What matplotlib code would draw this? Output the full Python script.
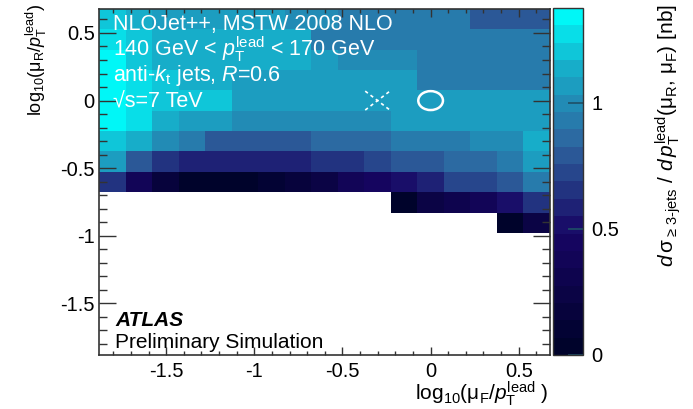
import numpy as np
import matplotlib
matplotlib.use('Agg')
import matplotlib.pyplot as plt
from matplotlib.colors import LinearSegmentedColormap, BoundaryNorm
from matplotlib.patches import Ellipse
from matplotlib.ticker import MultipleLocator

plt.rcParams['font.family'] = ['Liberation Sans', 'DejaVu Sans']
plt.rcParams['mathtext.fontset'] = 'custom'
plt.rcParams['mathtext.rm'] = 'Liberation Sans'
plt.rcParams['mathtext.it'] = 'Liberation Sans:italic'
plt.rcParams['mathtext.bf'] = 'Liberation Sans:bold'
plt.rcParams['axes.unicode_minus'] = False

# scale variations in steps of sqrt(2): log10(mu / pT) = k * log10(2) / 2
scale_steps = list(range(-12, 5))
half_decade = np.log10(2) / 2

nan = np.nan
# d sigma / d pT [nb] for each mu_R step (rows), ordered along mu_F steps -12..4
xsec_r_p4 = [1.20, 1.13, 1.07, 1.07, 1.07, 1.07, 1.07, 1.00, 1.00, 0.93, 0.93, 0.93, 0.93, 0.93, 0.79, 0.79, 0.79]
xsec_r_p3 = [1.27, 1.20, 1.13, 1.13, 1.13, 1.13, 1.13, 1.13, 0.93, 0.93, 0.93, 0.93, 0.93, 0.93, 0.93, 0.93, 0.93]
xsec_r_p2 = [1.34, 1.20, 1.13, 1.13, 1.13, 1.13, 1.13, 1.13, 1.07, 1.00, 1.00, 1.00, 0.93, 0.93, 0.93, 0.93, 0.93]
xsec_r_p1 = [1.34, 1.27, 1.20, 1.13, 1.13, 1.07, 1.07, 1.07, 1.07, 1.07, 1.07, 1.07, 0.93, 0.93, 0.93, 0.93, 0.93]
xsec_r_0  = [1.34, 1.27, 1.20, 1.20, 1.20, 1.07, 1.07, 1.07, 1.07, 1.07, 1.07, 1.07, 1.07, 1.07, 1.07, 1.07, 1.07]
xsec_r_m1 = [1.34, 1.27, 1.13, 1.07, 1.07, 1.00, 1.00, 1.00, 1.00, 1.00, 1.00, 1.07, 1.07, 1.07, 1.07, 1.07, 1.07]
xsec_r_m2 = [1.20, 1.13, 1.00, 0.93, 0.79, 0.79, 0.79, 0.79, 0.86, 0.86, 0.86, 0.93, 0.93, 0.93, 1.00, 1.00, 1.13]
xsec_r_m3 = [1.07, 0.79, 0.65, 0.58, 0.58, 0.58, 0.58, 0.58, 0.65, 0.65, 0.72, 0.79, 0.79, 0.86, 0.86, 0.93, 1.07]
xsec_r_m4 = [0.65, 0.38, 0.17, 0.03, 0.03, 0.03, 0.10, 0.17, 0.24, 0.38, 0.45, 0.52, 0.58, 0.72, 0.72, 0.79, 0.93]
xsec_r_m5 = [nan] * 11 + [0.03, 0.24, 0.31, 0.38, 0.52, 0.65]
xsec_r_m6 = [nan] * 15 + [0.03, 0.24]

rows = {4: xsec_r_p4, 3: xsec_r_p3, 2: xsec_r_p2, 1: xsec_r_p1, 0: xsec_r_0,
        -1: xsec_r_m1, -2: xsec_r_m2, -3: xsec_r_m3, -4: xsec_r_m4,
        -5: xsec_r_m5, -6: xsec_r_m6}

z = np.full((len(scale_steps), len(scale_steps)), np.nan)
for k, vals in rows.items():
    z[scale_steps.index(k), :] = vals
z = np.ma.masked_invalid(z)

edges = (np.arange(scale_steps[0], scale_steps[-1] + 2) - 0.5) * half_decade

# ROOT "deep sea" palette
stops = [0.0, 0.34, 0.61, 0.84, 1.0]
red = [0.0, 0.09, 0.18, 0.09, 0.0]
green = [0.01, 0.02, 0.39, 0.68, 0.97]
blue = [0.17, 0.39, 0.62, 0.79, 0.97]
deep_sea = LinearSegmentedColormap.from_list(
    'deepsea', [(s, (r, g, b)) for s, r, g, b in zip(stops, red, green, blue)])
zmax = 1.375
norm = BoundaryNorm(np.linspace(0, zmax, 21), ncolors=deep_sea.N)

W, H = 693, 409
fig = plt.figure(figsize=(W / 100, H / 100), dpi=100)
ax = fig.add_axes([99 / W, 1 - 355 / H, 451 / W, 346 / H])
mesh = ax.pcolormesh(edges, edges, z, cmap=deep_sea, norm=norm, edgecolors='none')
ax.set_xlim(edges[0], edges[-1])
ax.set_ylim(edges[0], edges[-1])

ax.xaxis.set_major_locator(MultipleLocator(0.5))
ax.xaxis.set_minor_locator(MultipleLocator(0.1))
ax.yaxis.set_major_locator(MultipleLocator(0.5))
ax.yaxis.set_minor_locator(MultipleLocator(0.1))
ax.xaxis.set_major_formatter(plt.FuncFormatter(lambda v, p: f'{v:g}'))
ax.yaxis.set_major_formatter(plt.FuncFormatter(lambda v, p: f'{v:g}'))
ax.tick_params(axis='both', which='both', direction='in', top=True, right=True,
               colors='#333333', labelcolor='black', labelsize=14.5)
ax.tick_params(axis='x', which='major', length=6, width=1, pad=5)
ax.tick_params(axis='x', which='minor', length=3, width=1)
ax.tick_params(axis='y', which='major', length=12, width=1, pad=3)
ax.tick_params(axis='y', which='minor', length=6, width=1)
for sp in ax.spines.values():
    sp.set_color('#333333')
    sp.set_linewidth(1.2)

# nominal scale choice and the alternative mu_F choice
ax.add_patch(Ellipse((0, 0), 0.14, 0.14, fill=False, ec='white', lw=1.8))
xm = np.log10(0.5)
ax.plot([xm - 0.07, xm + 0.07], [-0.07, 0.07], color='white', lw=1.2, ls=(0, (2, 2)))
ax.plot([xm - 0.07, xm + 0.07], [0.07, -0.07], color='white', lw=1.2, ls=(0, (2, 2)))

txt = dict(color='white', fontsize=15.5, transform=fig.transFigure, va='baseline')
fig.text(113 / W, 1 - 30 / H, 'NLOJet++, MSTW 2008 NLO', **txt)
fig.text(113 / W, 1 - 56 / H,
         r'140 GeV < $p_{\mathrm{T}}^{\mathrm{lead}}$ < 170 GeV', **txt)
fig.text(113 / W, 1 - 81 / H, r'anti-$k_{\mathrm{t}}$ jets, $R$=0.6', **txt)
fig.text(113 / W, 1 - 107 / H, '√s=7 TeV', **txt)

fig.text(115 / W, 1 - 326 / H, 'ATLAS', fontsize=15, fontweight='bold',
         fontstyle='italic', va='baseline')
fig.text(115 / W, 1 - 348 / H, 'Preliminary Simulation', fontsize=15, va='baseline')

fig.text(548 / W, 1 - 408 / H,
         r'log$_{10}$($\mathrm{\mu}_{\mathrm{F}}$/$p_{\mathrm{T}}^{\mathrm{lead}}$ )',
         fontsize=15, ha='right', va='bottom')
fig.text(36 / W, 1 - 4 / H,
         r'log$_{10}$($\mathrm{\mu}_{\mathrm{R}}$/$p_{\mathrm{T}}^{\mathrm{lead}}$)',
         fontsize=13, rotation=90, ha='center', va='top')

cax = fig.add_axes([553 / W, 1 - 355 / H, 30 / W, 347 / H])
cb = fig.colorbar(mesh, cax=cax, ticks=[0, 0.5, 1])
cb.ax.set_yticklabels(['0', '0.5', '1'])
cb.ax.tick_params(direction='in', length=11, width=1.2, color='#1f4f66',
                  labelsize=14.5, pad=6)
cb.ax.minorticks_off()
cb.outline.set_edgecolor('#333333')
cb.outline.set_linewidth(1.0)
fig.text(668 / W, 1 - 4 / H,
         r'$d\,\mathrm{\sigma}_{\geq\,\mathrm{3\text{-}jets}}$ / $d\,p_{\mathrm{T}}^{\mathrm{lead}}$($\mathrm{\mu}_{\mathrm{R}}$, $\mathrm{\mu}_{\mathrm{F}}$) [nb]',
         fontsize=15, rotation=90, ha='center', va='top')

fig.savefig('out.png', dpi=100)
